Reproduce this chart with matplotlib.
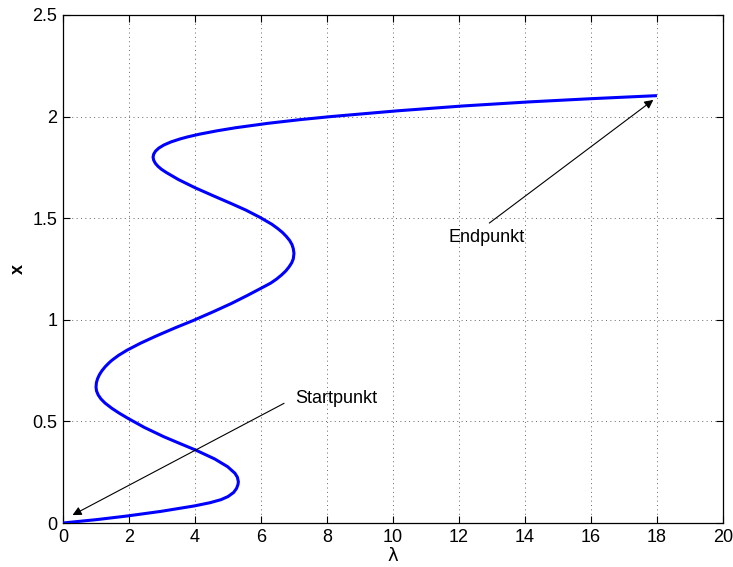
import matplotlib
matplotlib.use("Agg")
import matplotlib.pyplot as plt

plt.rcParams['font.family'] = ['Liberation Sans', 'DejaVu Sans']

# Solution branch: state x and parameter lambda along the continuation path
x_vals = [0.000, 0.017, 0.034, 0.057, 0.084, 0.100, 0.115, 0.130, 0.150, 0.170,
          0.190, 0.203, 0.225, 0.245, 0.277, 0.315, 0.359, 0.390, 0.425, 0.470,
          0.515, 0.540, 0.564, 0.590, 0.610, 0.630, 0.650, 0.668, 0.690, 0.710,
          0.730, 0.750, 0.770, 0.790, 0.802, 0.825, 0.851, 0.885, 0.920, 0.960,
          0.996, 1.040, 1.080, 1.120, 1.155, 1.180, 1.200, 1.220, 1.240, 1.260,
          1.280, 1.300, 1.327, 1.350, 1.370, 1.390, 1.410, 1.430, 1.450, 1.470,
          1.504, 1.540, 1.570, 1.610, 1.650, 1.690, 1.724, 1.740, 1.755, 1.770,
          1.785, 1.800, 1.815, 1.830, 1.845, 1.860, 1.875, 1.890, 1.900, 1.913,
          1.930, 1.945, 1.967, 1.985, 2.000, 2.028, 2.052, 2.072, 2.088, 2.103]
lam_vals = [0.00, 1.04, 1.92, 2.96, 3.98, 4.46, 4.79, 5.00, 5.17, 5.26,
            5.305, 5.315, 5.286, 5.21, 4.99, 4.60, 4.02, 3.56, 3.05, 2.47,
            1.97, 1.71, 1.484, 1.276, 1.154, 1.068, 1.017, 1.002, 1.013, 1.048,
            1.105, 1.184, 1.285, 1.408, 1.493, 1.685, 1.948, 2.353, 2.822, 3.394,
            3.94, 4.56, 5.10, 5.59, 6.00, 6.29, 6.47, 6.62, 6.75, 6.85,
            6.93, 6.98, 7.00, 6.98, 6.94, 6.87, 6.77, 6.65, 6.50, 6.33,
            5.97, 5.54, 5.126, 4.558, 4.00, 3.50, 3.14, 2.99, 2.88, 2.80,
            2.75, 2.73, 2.749, 2.805, 2.905, 3.057, 3.269, 3.549, 3.777, 4.125,
            4.669, 5.23, 6.22, 7.19, 8.12, 10.11, 12.10, 14.10, 16.00, 18.00]

x_ticks = [0, 2, 4, 6, 8, 10, 12, 14, 16, 18, 20]
y_ticks = [0, 0.5, 1, 1.5, 2, 2.5]
y_tick_labels = ['0', '0.5', '1', '1.5', '2', '2.5']

fig = plt.figure(figsize=(7.33, 5.67), dpi=100)
ax = fig.add_axes([0.0859, 0.0776, 0.9004, 0.896])

ax.plot(lam_vals, x_vals, color='#0000ff', lw=2.2, solid_capstyle='butt',
        solid_joinstyle='round', zorder=3)

ax.set_xlim(0, 20)
ax.set_ylim(0, 2.5)
ax.set_xticks(x_ticks)
ax.set_yticks(y_ticks)
ax.set_yticklabels(y_tick_labels)
ax.tick_params(direction='in', top=True, right=True, length=5, width=0.8,
               labelsize=13, pad=4, colors='k')
ax.grid(True, color='0.4', linestyle=(0, (1, 3.5)), lw=0.7)
for s in ax.spines.values():
    s.set_linewidth(0.9)

ax.set_xlabel('λ', fontsize=13, labelpad=1, family=['DejaVu Sans'])
ax.set_ylabel('x', fontsize=13, fontweight='bold', labelpad=4)

arrow = dict(arrowstyle='-|>', color='k', lw=0.8, mutation_scale=13,
             shrinkA=0, shrinkB=0)
ax.annotate('', xy=(0.29, 0.039), xytext=(6.7, 0.589), arrowprops=arrow)
ax.text(7.03, 0.615, 'Startpunkt', fontsize=13, ha='left', va='center')

ax.annotate('', xy=(17.89, 2.082), xytext=(12.92, 1.476), arrowprops=arrow)
ax.text(11.68, 1.404, 'Endpunkt', fontsize=13, ha='left', va='center')

fig.savefig('out.png', dpi=100)
